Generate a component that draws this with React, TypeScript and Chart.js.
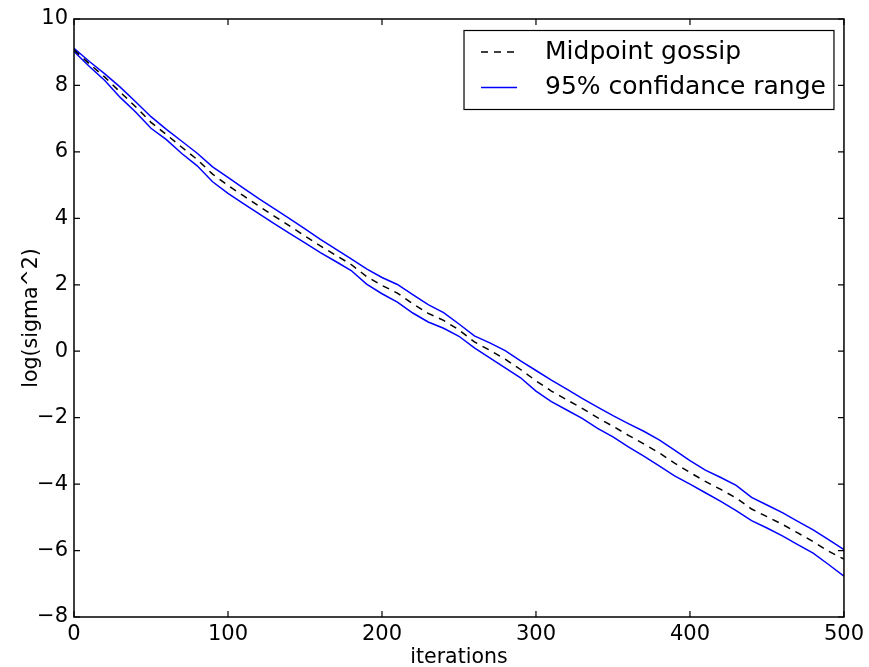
import React, { useEffect, useRef } from "react";
import { Chart, registerables } from "chart.js";

Chart.register(...registerables);

const iterations = [
  0, 10, 20, 30, 40, 50, 60, 70, 80, 90,
  100, 110, 120, 130, 140, 150, 160, 170, 180, 190,
  200, 210, 220, 230, 240, 250, 260, 270, 280, 290,
  300, 310, 320, 330, 340, 350, 360, 370, 380, 390,
  400, 410, 420, 430, 440, 450, 460, 470, 480, 490, 500,
];

const midpointGossip = [
  9.07, 8.65, 8.25, 7.8, 7.36, 6.89, 6.52, 6.14, 5.77, 5.33,
  4.99, 4.68, 4.37, 4.07, 3.77, 3.47, 3.17, 2.89, 2.61, 2.25,
  1.98, 1.75, 1.43, 1.14, 0.93, 0.64, 0.28, 0.03, -0.24, -0.55,
  -0.89, -1.2, -1.46, -1.72, -2.0, -2.26, -2.53, -2.79, -3.06, -3.37,
  -3.65, -3.92, -4.16, -4.42, -4.75, -4.98, -5.21, -5.47, -5.73, -6.02, -6.26,
];

const upperRange = [
  9.12, 8.72, 8.35, 7.95, 7.51, 7.06, 6.68, 6.32, 5.96, 5.55,
  5.23, 4.91, 4.59, 4.29, 3.99, 3.68, 3.37, 3.07, 2.78, 2.48,
  2.22, 2.01, 1.7, 1.4, 1.16, 0.82, 0.46, 0.25, 0.02, -0.29,
  -0.58, -0.87, -1.14, -1.42, -1.68, -1.94, -2.18, -2.41, -2.67, -2.98,
  -3.29, -3.58, -3.8, -4.04, -4.4, -4.63, -4.86, -5.12, -5.38, -5.67, -5.97,
];

const lowerRange = [
  9.02, 8.57, 8.15, 7.64, 7.2, 6.71, 6.37, 5.95, 5.58, 5.1,
  4.75, 4.44, 4.14, 3.84, 3.55, 3.26, 2.97, 2.7, 2.43, 2.02,
  1.73, 1.48, 1.15, 0.88, 0.69, 0.45, 0.1, -0.2, -0.5, -0.8,
  -1.2, -1.52, -1.77, -2.02, -2.32, -2.58, -2.88, -3.16, -3.45, -3.75,
  -4.0, -4.26, -4.52, -4.8, -5.1, -5.32, -5.56, -5.82, -6.08, -6.42, -6.77,
];

const xTicks = [0, 100, 200, 300, 400, 500];
const yTicks = [-8, -6, -4, -2, 0, 2, 4, 6, 8, 10];
const seriesLabels = ["Midpoint gossip", "95% confidance range"];
const axisTitles = { x: "iterations", y: "log(sigma^2)" };

const FONT = "DejaVu Sans";
const BLUE = "#0000ff";

const frameAndLegend = {
  id: "frameAndLegend",
  afterDatasetsDraw(chart: any) {
    const { ctx, chartArea, scales } = chart;
    const { left, right, top, bottom } = chartArea;
    ctx.save();
    ctx.strokeStyle = "#000";
    ctx.lineWidth = 1.5;
    ctx.setLineDash([]);
    ctx.strokeRect(left, top, right - left, bottom - top);
    const tl = 6;
    ctx.lineWidth = 1.2;
    ctx.beginPath();
    for (const v of xTicks) {
      const px = scales.x.getPixelForValue(v);
      ctx.moveTo(px, bottom);
      ctx.lineTo(px, bottom - tl);
      ctx.moveTo(px, top);
      ctx.lineTo(px, top + tl);
    }
    for (const v of yTicks) {
      const py = scales.y.getPixelForValue(v);
      ctx.moveTo(left, py);
      ctx.lineTo(left + tl, py);
      ctx.moveTo(right, py);
      ctx.lineTo(right - tl, py);
    }
    ctx.stroke();

    // legend
    ctx.font = `25px "${FONT}"`;
    const textW = Math.max(...seriesLabels.map((s) => ctx.measureText(s).width));
    const boxRight = right - 10;
    const boxTop = top + 11.5;
    const padL = 17;
    const lineLen = 36;
    const gap = 28;
    const padR = 8;
    const boxW = padL + lineLen + gap + textW + padR;
    const boxH = 79;
    const boxLeft = boxRight - boxW;
    ctx.fillStyle = "#fff";
    ctx.fillRect(boxLeft, boxTop, boxW, boxH);
    ctx.lineWidth = 1.2;
    ctx.strokeStyle = "#000";
    ctx.strokeRect(boxLeft, boxTop, boxW, boxH);
    const rows = [boxTop + 21.5, boxTop + 57];
    const ds = chart.data.datasets;
    const entries = [ds[0], ds[1]];
    entries.forEach((d: any, i: number) => {
      const y = rows[i];
      const x0 = boxLeft + padL;
      ctx.beginPath();
      ctx.strokeStyle = d.borderColor;
      ctx.lineWidth = d.borderWidth;
      ctx.setLineDash(d.borderDash || []);
      ctx.moveTo(x0, y);
      ctx.lineTo(x0 + lineLen, y);
      ctx.stroke();
      ctx.setLineDash([]);
      ctx.fillStyle = "#000";
      ctx.textBaseline = "middle";
      ctx.textAlign = "left";
      ctx.fillText(d.label, x0 + lineLen + gap, y);
    });
    ctx.restore();
  },
};

export default function App() {
  const ref = useRef<HTMLCanvasElement | null>(null);

  useEffect(() => {
    if (!ref.current) return;
    Chart.defaults.font.family = FONT;
    const toPts = (arr: number[]) => iterations.map((x, i) => ({ x, y: arr[i] }));
    const chart = new Chart(ref.current, {
      type: "line",
      data: {
        datasets: [
          {
            label: seriesLabels[0],
            data: toPts(midpointGossip),
            borderColor: "#000",
            borderWidth: 1.5,
            borderDash: [7, 6],
            pointRadius: 0,
            tension: 0,
            fill: false,
          },
          {
            label: seriesLabels[1],
            data: toPts(upperRange),
            borderColor: BLUE,
            borderWidth: 1.5,
            pointRadius: 0,
            tension: 0,
            fill: false,
          },
          {
            label: "",
            data: toPts(lowerRange),
            borderColor: BLUE,
            borderWidth: 1.5,
            pointRadius: 0,
            tension: 0,
            fill: false,
          },
        ],
      },
      options: {
        animation: false,
        responsive: false,
        devicePixelRatio: 1,
        layout: { padding: { top: 19, right: 22, left: 0, bottom: 0 } },
        plugins: {
          legend: { display: false },
          tooltip: { enabled: false },
          title: { display: false },
        },
        scales: {
          x: {
            type: "linear",
            min: 0,
            max: 500,
            afterFit: (s: any) => {
              s.height = 50;
            },
            afterBuildTicks: (s: any) => {
              s.ticks = xTicks.map((v) => ({ value: v }));
            },
            grid: { display: false, drawTicks: false },
            border: { display: false },
            ticks: {
              autoSkip: false,
              maxRotation: 0,
              padding: 5,
              color: "#000",
              font: { size: 21, family: FONT },
            },
            title: {
              display: true,
              text: axisTitles.x,
              color: "#000",
              font: { size: 20.5, family: FONT, lineHeight: 1 },
              padding: { top: 0, bottom: -1 },
            },
          },
          y: {
            type: "linear",
            min: -8,
            max: 10,
            afterFit: (s: any) => {
              s.width = 74;
            },
            afterBuildTicks: (s: any) => {
              s.ticks = yTicks.map((v) => ({ value: v }));
            },
            grid: { display: false, drawTicks: false },
            border: { display: false },
            ticks: {
              autoSkip: false,
              padding: 6,
              color: "#000",
              font: { size: 21, family: FONT },
              callback: (v: any) => String(v).replace("-", "\u2212"),
            },
            title: {
              display: true,
              text: axisTitles.y,
              color: "#000",
              font: { size: 20.5, family: FONT, lineHeight: 1 },
              padding: { top: 21, bottom: 0 },
            },
          },
        },
      },
      plugins: [frameAndLegend],
    });
    return () => chart.destroy();
  }, []);

  return (
    <div style={{ position: "absolute", left: 0, top: 0, width: 869, height: 667, background: "#fff" }}>
      <canvas ref={ref} width={869} height={667} />
    </div>
  );
}
